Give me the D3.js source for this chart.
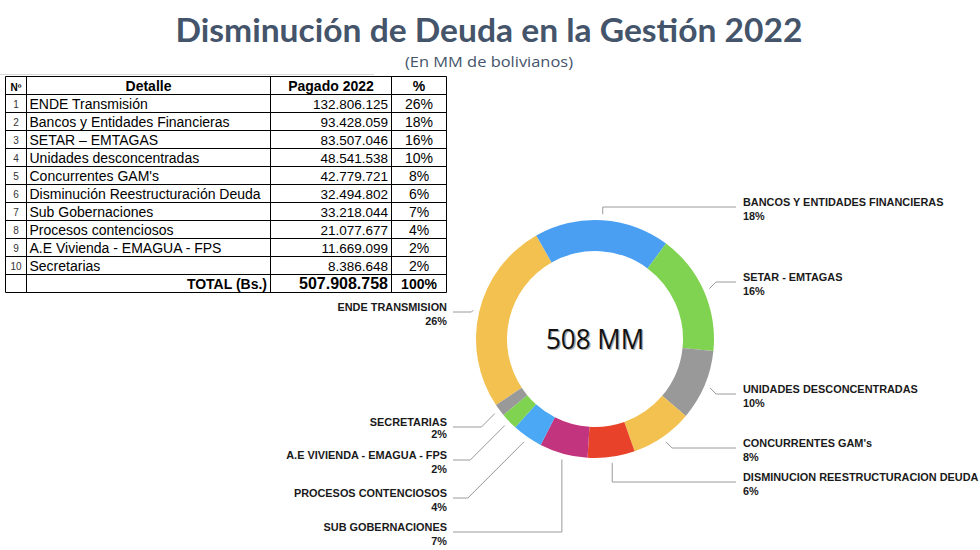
<!DOCTYPE html>
<html>
<head>
<meta charset="utf-8">
<script src="https://cdn.jsdelivr.net/npm/d3@7"></script>
<style>
  html, body { margin: 0; padding: 0; background: #fff; }
  svg { display: block; }
</style>
</head>
<body>
<svg id="chart" width="980" height="550"></svg>
<script>
// ---------------- DATA ----------------
const titleText = "Disminución de Deuda en la Gestión 2022";
const subtitleText = "(En MM de bolivianos)";
const tableHeaders = ["Nº", "Detalle", "Pagado 2022", "%"];
const rowNumbers = ["1","2","3","4","5","6","7","8","9","10"];
const categories = [
  "ENDE Transmisión",
  "Bancos y Entidades Financieras",
  "SETAR – EMTAGAS",
  "Unidades desconcentradas",
  "Concurrentes GAM's",
  "Disminución Reestructuración Deuda",
  "Sub Gobernaciones",
  "Procesos contenciosos",
  "A.E Vivienda - EMAGUA - FPS",
  "Secretarias"
];
const values = [132806125, 93428059, 83507046, 48541538, 42779721, 32494802, 33218044, 21077677, 11669099, 8386648];
const percentLabels = ["26%","18%","16%","10%","8%","6%","7%","4%","2%","2%"];
const totalLabel = "TOTAL (Bs.)";
const totalValueText = "507.908.758";
const totalPctText = "100%";
const chartLabels = [
  "ENDE TRANSMISION",
  "BANCOS Y ENTIDADES FINANCIERAS",
  "SETAR - EMTAGAS",
  "UNIDADES DESCONCENTRADAS",
  "CONCURRENTES GAM's",
  "DISMINUCION REESTRUCTURACION DEUDA",
  "SUB GOBERNACIONES",
  "PROCESOS CONTENCIOSOS",
  "A.E VIVIENDA - EMAGUA - FPS",
  "SECRETARIAS"
];
const centerText = "508 MM";

// ---------------- STYLE / LAYOUT ----------------
const colors = ["#f2c14f","#4a9ff3","#7fd350","#999999","#f2c14f","#e8432a","#c2347d","#4aa8f5","#7fd350","#999999"];
// baseline of first label line (layout only)
const labelBaselines = [311, 206, 281, 393, 447, 481, 531, 497, 459, 426];

const svg = d3.select("#chart");
const fmt = d3.formatLocale({decimal: ",", thousands: ".", grouping: [3], currency: ["", ""]}).format(",d");

// Title
svg.append("text")
  .attr("x", 489).attr("y", 42)
  .attr("text-anchor", "middle")
  .attr("font-family", "Lato, 'Open Sans', sans-serif")
  .attr("font-weight", "bold")
  .attr("font-size", 33)
  .attr("fill", "#44546a")
  .attr("textLength", 627).attr("lengthAdjust", "spacingAndGlyphs")
  .text(titleText);
svg.append("text")
  .attr("x", 489).attr("y", 67)
  .attr("text-anchor", "middle")
  .attr("font-family", "'Open Sans', Lato, sans-serif")
  .attr("font-size", 14.5)
  .attr("fill", "#44546a")
  .attr("textLength", 168).attr("lengthAdjust", "spacingAndGlyphs")
  .text(subtitleText);

// faint separator line
svg.append("line").attr("x1", 0).attr("x2", 374).attr("y1", 74.5).attr("y2", 74.5)
  .attr("stroke", "#d8d8d8").attr("stroke-width", 1);

// ---------------- TABLE ----------------
const colEdges = [5.5, 26.5, 270.5, 391.5, 446.5];
const nRows = categories.length + 2;
const rowScale = d3.scaleLinear().domain([0, nRows]).range([76.5, 292.5]);
const tbl = svg.append("g").attr("font-family", "'Liberation Sans', Arial, sans-serif").attr("fill", "#000");

d3.range(nRows + 1).forEach(i => {
  tbl.append("line").attr("x1", colEdges[0]).attr("x2", colEdges[4])
    .attr("y1", rowScale(i)).attr("y2", rowScale(i))
    .attr("stroke", "#000").attr("stroke-width", 1);
});
colEdges.forEach(x => {
  tbl.append("line").attr("x1", x).attr("x2", x)
    .attr("y1", rowScale(0)).attr("y2", rowScale(nRows))
    .attr("stroke", "#000").attr("stroke-width", 1);
});
const rowMid = i => (rowScale(i) + rowScale(i + 1)) / 2;

const headerAnchors = [
  {x: (colEdges[0]+colEdges[1])/2, fs: 10},
  {x: (colEdges[1]+colEdges[2])/2, fs: 14},
  {x: (colEdges[2]+colEdges[3])/2, fs: 14},
  {x: (colEdges[3]+colEdges[4])/2, fs: 14}
];
tableHeaders.forEach((h, j) => {
  tbl.append("text").attr("x", headerAnchors[j].x).attr("y", rowMid(0) + 5)
    .attr("text-anchor", "middle").attr("font-weight", "bold")
    .attr("font-size", headerAnchors[j].fs).text(h);
});

categories.forEach((c, i) => {
  const y = rowMid(i + 1) + 5;
  tbl.append("text").attr("x", (colEdges[0]+colEdges[1])/2).attr("y", y - 0.5)
    .attr("text-anchor", "middle").attr("font-size", 10).attr("fill", "#333").text(rowNumbers[i]);
  tbl.append("text").attr("x", 29.5).attr("y", y).attr("font-size", 14).text(c);
  tbl.append("text").attr("x", 388).attr("y", y).attr("text-anchor", "end").attr("font-size", 13.5).text(fmt(values[i]));
  tbl.append("text").attr("x", (colEdges[3]+colEdges[4])/2).attr("y", y).attr("text-anchor", "middle").attr("font-size", 14).text(percentLabels[i]);
});
const ty = rowMid(nRows - 1) + 5;
tbl.append("text").attr("x", 267).attr("y", ty).attr("text-anchor", "end").attr("font-weight", "bold").attr("font-size", 14).text(totalLabel);
tbl.append("text").attr("x", 388).attr("y", ty + 0.5).attr("text-anchor", "end").attr("font-weight", "bold").attr("font-size", 16).text(totalValueText);
tbl.append("text").attr("x", (colEdges[3]+colEdges[4])/2).attr("y", ty).attr("text-anchor", "middle").attr("font-weight", "bold").attr("font-size", 14).text(totalPctText);

// ---------------- DONUT ----------------
const cx = 595, cy = 339, rOuter = 119, rInner = 88;
const startA = -123.7 * Math.PI / 180;
const pie = d3.pie().sort(null).value(d => d).startAngle(startA).endAngle(startA + 2 * Math.PI);
const arcs = pie(values);
const arcGen = d3.arc().innerRadius(rInner).outerRadius(rOuter);
const g = svg.append("g").attr("transform", `translate(${cx},${cy})`);
g.selectAll("path.slice").data(arcs).enter().append("path")
  .attr("class", "slice")
  .attr("d", arcGen)
  .attr("fill", (d, i) => colors[i]);

// center text with shadow
g.append("text").attr("x", 1.3).attr("y", 10.8).attr("text-anchor", "middle")
  .attr("font-family", "'Open Sans', Lato, sans-serif").attr("font-size", 27).attr("fill", "#a8a8a8")
  .attr("textLength", 98).attr("lengthAdjust", "spacingAndGlyphs").text(centerText);
g.append("text").attr("x", 0).attr("y", 9.5).attr("text-anchor", "middle")
  .attr("font-family", "'Open Sans', Lato, sans-serif").attr("font-size", 27).attr("fill", "#111")
  .attr("textLength", 98).attr("lengthAdjust", "spacingAndGlyphs").text(centerText);

// ---------------- CALLOUTS ----------------
const lab = svg.append("g").attr("font-family", "'Liberation Sans', Arial, sans-serif").attr("font-weight", "bold").attr("font-size", 10.9).attr("fill", "#1a1a1a");
const lines = svg.append("g");
const rightTextX = 743, rightLineEnd = 736, leftTextX = 447, leftLineEnd = 453;

arcs.forEach((a, i) => {
  const mid = (a.startAngle + a.endAngle) / 2;
  const s = Math.sin(mid), c = -Math.cos(mid);
  const x0 = cx + (rOuter + 6) * s, y0 = cy + (rOuter + 6) * c;
  const ly = labelBaselines[i] + 1;
  let x1;
  if (Math.abs(s) < 0.3) x1 = x0;
  else x1 = x0 + Math.sign(s) * Math.abs(ly - y0);
  const isRight = (i >= 1 && i <= 5);
  const xEnd = isRight ? rightLineEnd : leftLineEnd;
  lines.append("path")
    .attr("d", `M${x0},${y0}L${x1},${ly}L${xEnd},${ly}`)
    .attr("fill", "none").attr("stroke", "#9a9a9a").attr("stroke-width", 1);

  const tx = isRight ? rightTextX : leftTextX;
  const anchor = isRight ? "start" : "end";
  const last = (i === categories.length - 1);
  lab.append("text").attr("x", tx).attr("y", labelBaselines[i] + (last ? 12 : 14))
    .attr("text-anchor", anchor).text(percentLabels[i]);
  lab.append("text").attr("x", tx).attr("y", labelBaselines[i])
    .attr("text-anchor", anchor).text(chartLabels[i]);
});
</script>
</body>
</html>
